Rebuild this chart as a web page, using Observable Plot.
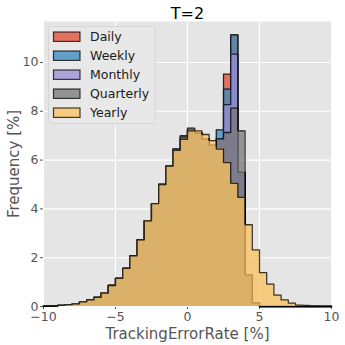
<!DOCTYPE html>
<html><head><meta charset="utf-8">
<script src="https://cdn.jsdelivr.net/npm/d3@7"></script>
<script src="https://cdn.jsdelivr.net/npm/@observablehq/plot@0.6"></script>
<style>
html,body{margin:0;padding:0;background:#fff;}
#chart svg{display:block;}
</style>
</head><body><div id="chart"></div>
<script>
// Bin edges (width 0.5) from -10 to 10
const binEdges = [-10,-9.5,-9,-8.5,-8,-7.5,-7,-6.5,-6,-5.5,-5,-4.5,-4,-3.5,-3,-2.5,-2,-1.5,-1,-0.5,0,0.5,1,1.5,2,2.5,3,3.5,4,4.5,5,5.5,6,6.5,7,7.5,8,8.5,9,9.5,10];

const seriesNames = ["Daily","Weekly","Monthly","Quarterly","Yearly"];
const seriesColors = ["#E24A33","#348ABD","#988ED5","#777777","#FBC15E"];

const daily     = [0.02,0.03,0.05,0.08,0.11,0.19,0.27,0.37,0.55,0.86,1.15,1.56,2.08,2.73,3.51,4.22,5.0,5.75,6.45,6.9,7.25,7.1,6.87,6.6,6.75,9.52,11.13,5.5,1.3,0.15,0,0,0,0,0,0,0,0,0,0];
const weekly    = [0.02,0.03,0.05,0.08,0.11,0.19,0.27,0.37,0.55,0.86,1.15,1.56,2.08,2.73,3.51,4.22,5.0,5.75,6.45,7.0,7.2,7.1,6.87,6.6,7.24,8.91,11.13,5.4,1.25,0.15,0,0,0,0,0,0,0,0,0,0];
const monthly   = [0.02,0.03,0.05,0.08,0.11,0.19,0.27,0.37,0.55,0.86,1.15,1.56,2.08,2.73,3.51,4.22,5.0,5.75,6.45,6.9,7.2,7.1,6.87,6.6,6.87,8.27,10.34,5.5,1.3,0.15,0,0,0,0,0,0,0,0,0,0];
const quarterly = [0.02,0.03,0.05,0.08,0.11,0.19,0.27,0.37,0.55,0.86,1.15,1.56,2.08,2.73,3.51,4.22,5.0,5.75,6.45,6.95,7.31,7.1,6.87,6.6,6.87,7.13,8.13,7.2,1.3,0.15,0,0,0,0,0,0,0,0,0,0];
const yearly    = [0.02,0.03,0.05,0.08,0.11,0.19,0.27,0.37,0.55,0.86,1.15,1.56,2.08,2.73,3.51,4.22,5.0,5.75,6.4,6.85,7.2,7.2,7.05,6.8,6.45,5.9,5.05,4.47,3.35,2.32,1.39,0.92,0.47,0.27,0.14,0.06,0.04,0.02,0.01,0.01];

const xTicks = [-10,-5,0,5,10];
const yTicks = [0,2,4,6,8,10];
const titleText = "T=2";
const xLabel = "TrackingErrorRate [%]";
const yLabel = "Frequency [%]";

const seriesValues = [daily, weekly, monthly, quarterly, yearly];
const FILL_OPACITY = 0.75;

function areaPoints(values) {
  const pts = values.map((v, i) => ({x: binEdges[i], y: v}));
  pts.push({x: binEdges[binEdges.length - 1], y: values[values.length - 1]});
  return pts;
}
function outlinePoints(values) {
  const pts = [{x: binEdges[0], y: 0}];
  values.forEach((v, i) => pts.push({x: binEdges[i], y: v}));
  pts.push({x: binEdges[binEdges.length - 1], y: values[values.length - 1]});
  pts.push({x: binEdges[binEdges.length - 1], y: 0});
  return pts;
}

const histMarks = [];
seriesValues.forEach((vals, i) => {
  histMarks.push(Plot.areaY(areaPoints(vals), {x: "x", y: "y", curve: "step-after", fill: seriesColors[i], fillOpacity: FILL_OPACITY}));
  histMarks.push(Plot.line(outlinePoints(vals), {x: "x", y: "y", curve: "step-after", stroke: "black", strokeWidth: 1.3, strokeOpacity: 0.75}));
});

const chart = Plot.plot({
  width: 345,
  height: 345,
  marginLeft: 43,
  marginRight: 14,
  marginTop: 21,
  marginBottom: 39,
  style: {fontFamily: "DejaVu Sans, sans-serif", fontSize: "12.5px", color: "#555555", background: "white"},
  x: {domain: [-10, 10], ticks: xTicks, label: null, tickSize: 3, tickPadding: 3},
  y: {domain: [0, 11.68], ticks: yTicks, label: null, tickSize: 3, tickPadding: 2},
  marks: [
    Plot.frame({fill: "#E5E5E5", stroke: null}),
    Plot.ruleX(xTicks, {stroke: "white", strokeWidth: 1.1}),
    Plot.ruleY(yTicks, {stroke: "white", strokeWidth: 1.1}),
    ...histMarks,
    Plot.text([titleText], {frameAnchor: "top", dy: -8, lineAnchor: "middle", textAnchor: "middle", fontSize: 16, fill: "black"}),
    Plot.text([xLabel], {frameAnchor: "bottom", dy: 28, lineAnchor: "middle", textAnchor: "middle", fontSize: 15, fill: "#555555"}),
    Plot.text([yLabel], {frameAnchor: "left", rotate: -90, dx: -29, lineAnchor: "middle", textAnchor: "middle", fontSize: 15, fill: "#555555"})
  ]
});
document.getElementById("chart").appendChild(chart);

// Legend (upper left, inside axes)
const svg = d3.select(chart);
const lg = svg.append("g").attr("font-family", "DejaVu Sans, sans-serif").attr("text-anchor", "start");
lg.append("rect").attr("x", 48.5).attr("y", 26.5).attr("width", 106.5).attr("height", 97)
  .attr("rx", 3).attr("fill", "#E8E8E8").attr("stroke", "#D6D6D6").attr("stroke-width", 1);
seriesNames.forEach((name, i) => {
  const cy = 36.7 + i * 19;
  lg.append("rect").attr("x", 53.5).attr("y", cy - 4.7).attr("width", 26.5).attr("height", 9.4)
    .attr("fill", seriesColors[i]).attr("fill-opacity", FILL_OPACITY)
    .attr("stroke", "black").attr("stroke-opacity", 0.75).attr("stroke-width", 1.2);
  lg.append("text").attr("x", 90).attr("y", cy).attr("dy", "0.35em")
    .attr("text-anchor", "start").attr("font-size", 12.5).attr("fill", "#1a1a1a").text(name);
});
</script>
</body></html>
